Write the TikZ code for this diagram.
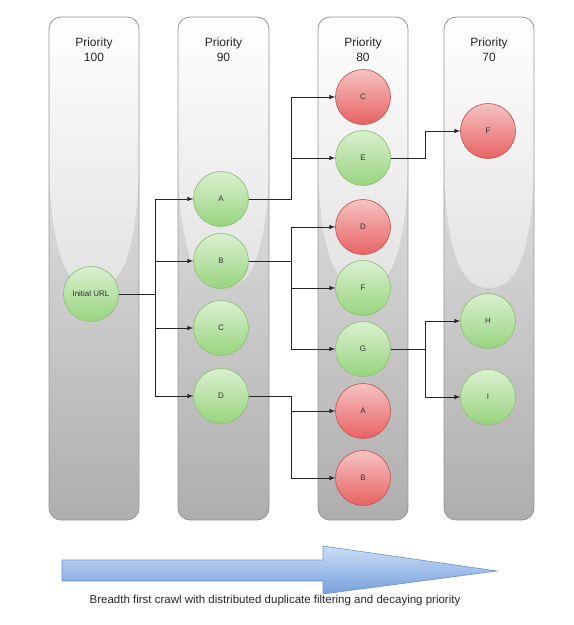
\documentclass[tikz,border=0pt]{standalone}
\usepackage{fontspec}
\setmainfont{Liberation Sans}
\usetikzlibrary{arrows}
\definecolor{lanetop}{RGB}{242,242,242}
\definecolor{lanebottom}{RGB}{174,174,174}
\definecolor{laneedge}{RGB}{150,150,150}
\definecolor{glowbottom}{RGB}{226,226,226}
\definecolor{hittop}{RGB}{218,240,208}
\definecolor{hitbottom}{RGB}{152,212,126}
\definecolor{hitedge}{RGB}{142,194,118}
\definecolor{duptop}{RGB}{246,194,194}
\definecolor{dupbottom}{RGB}{232,98,98}
\definecolor{dupedge}{RGB}{198,88,88}
\definecolor{flowtop}{RGB}{204,222,245}
\definecolor{flowbottom}{RGB}{118,160,222}
\definecolor{flowedge}{RGB}{108,146,206}
\newcommand{\prioritylane}[3]{%
    \begin{scope}
        \clip[rounded corners=12] (#1, 17) rectangle (#2, 520);
        \path[lane] (#1, 17) rectangle (#2, 520);
        \path[glow] (#1, 17) -- (#1, 175)
            .. controls (#1 + 4, 250) and ({(#1 + #2) / 2 - 30}, 288) ..
            ({(#1 + #2) / 2}, 288)
            .. controls ({(#1 + #2) / 2 + 30}, 288) and (#2 - 4, 250) ..
            (#2, 175) -- (#2, 17) -- cycle;
    \end{scope}
    \draw[laneedge, line width=.8, rounded corners=12] (#1, 17) rectangle (#2, 520);
    \node[heading] at ({(#1 + #2) / 2}, 50) {Priority\\#3};
}

\begin{document}
\begin{tikzpicture}
    [ x=1pt, y=-1pt,
      lane/.style={top color=lanetop, bottom color=lanebottom},
      glow/.style={top color=white, bottom color=glowbottom},
      heading/.style={align=center, font=\fontsize{12}{15}\selectfont,
                      text=black!85},
      url/.style={circle, minimum size=55, inner sep=0, line width=.7,
                  font=\fontsize{8}{10}\selectfont, text=black!80},
      hit/.style={url, draw=hitedge, top color=hittop, bottom color=hitbottom},
      dup/.style={url, draw=dupedge, top color=duptop, bottom color=dupbottom},
      link/.style={draw=black!85, line width=1, ->, >=latex},
      flow/.style={draw=flowedge, line width=.6, top color=flowtop,
                   bottom color=flowbottom}
    ]
    \useasboundingbox (0, 0) rectangle (574, 625);

    % Priority lanes
    \prioritylane{49}{139}{100}
    \prioritylane{178}{269}{90}
    \prioritylane{318}{408}{80}
    \prioritylane{444}{534}{70}

    % Seed
    \node[hit] (init) at (91, 294) {Initial URL};

    % Priority 90
    \node[hit] (a2) at (221, 199) {A};
    \node[hit] (b2) at (221, 261) {B};
    \node[hit] (c2) at (221, 328) {C};
    \node[hit] (d2) at (221, 396) {D};

    % Priority 80
    \node[dup] (c3) at (363, 97) {C};
    \node[hit] (e3) at (363, 158) {E};
    \node[dup] (d3) at (363, 227) {D};
    \node[hit] (f3) at (363, 288) {F};
    \node[hit] (g3) at (363, 349) {G};
    \node[dup] (a3) at (363, 411) {A};
    \node[dup] (b3) at (363, 478) {B};

    % Priority 70
    \node[dup] (f4) at (488, 131) {F};
    \node[hit] (h4) at (488, 321) {H};
    \node[hit] (i4) at (488, 397) {I};

    % Links
    \foreach \to in {a2, b2, c2, d2} {
        \draw[link] (init.east) -- ++(37, 0) |- (\to.west);
    }
    \foreach \to in {c3, e3} {
        \draw[link] (a2.east) -- ++(43, 0) |- (\to.west);
    }
    \foreach \to in {d3, f3, g3} {
        \draw[link] (b2.east) -- ++(43, 0) |- (\to.west);
    }
    \foreach \to in {a3, b3} {
        \draw[link] (d2.east) -- ++(43, 0) |- (\to.west);
    }
    \draw[link] (e3.east) -- ++(35, 0) |- (f4.west);
    \foreach \to in {h4, i4} {
        \draw[link] (g3.east) -- ++(35, 0) |- (\to.west);
    }

    % Crawl direction
    \path[flow] (62, 560) -- (323, 560) -- (323, 546) -- (497, 571)
        -- (323, 594) -- (323, 581) -- (62, 581) -- cycle;
    \node[font=\fontsize{11.5}{14}\selectfont, text=black!85] (caption)
        at (275, 601) {Breadth first crawl with distributed duplicate
        filtering and decaying priority};

\end{tikzpicture}
\end{document}
